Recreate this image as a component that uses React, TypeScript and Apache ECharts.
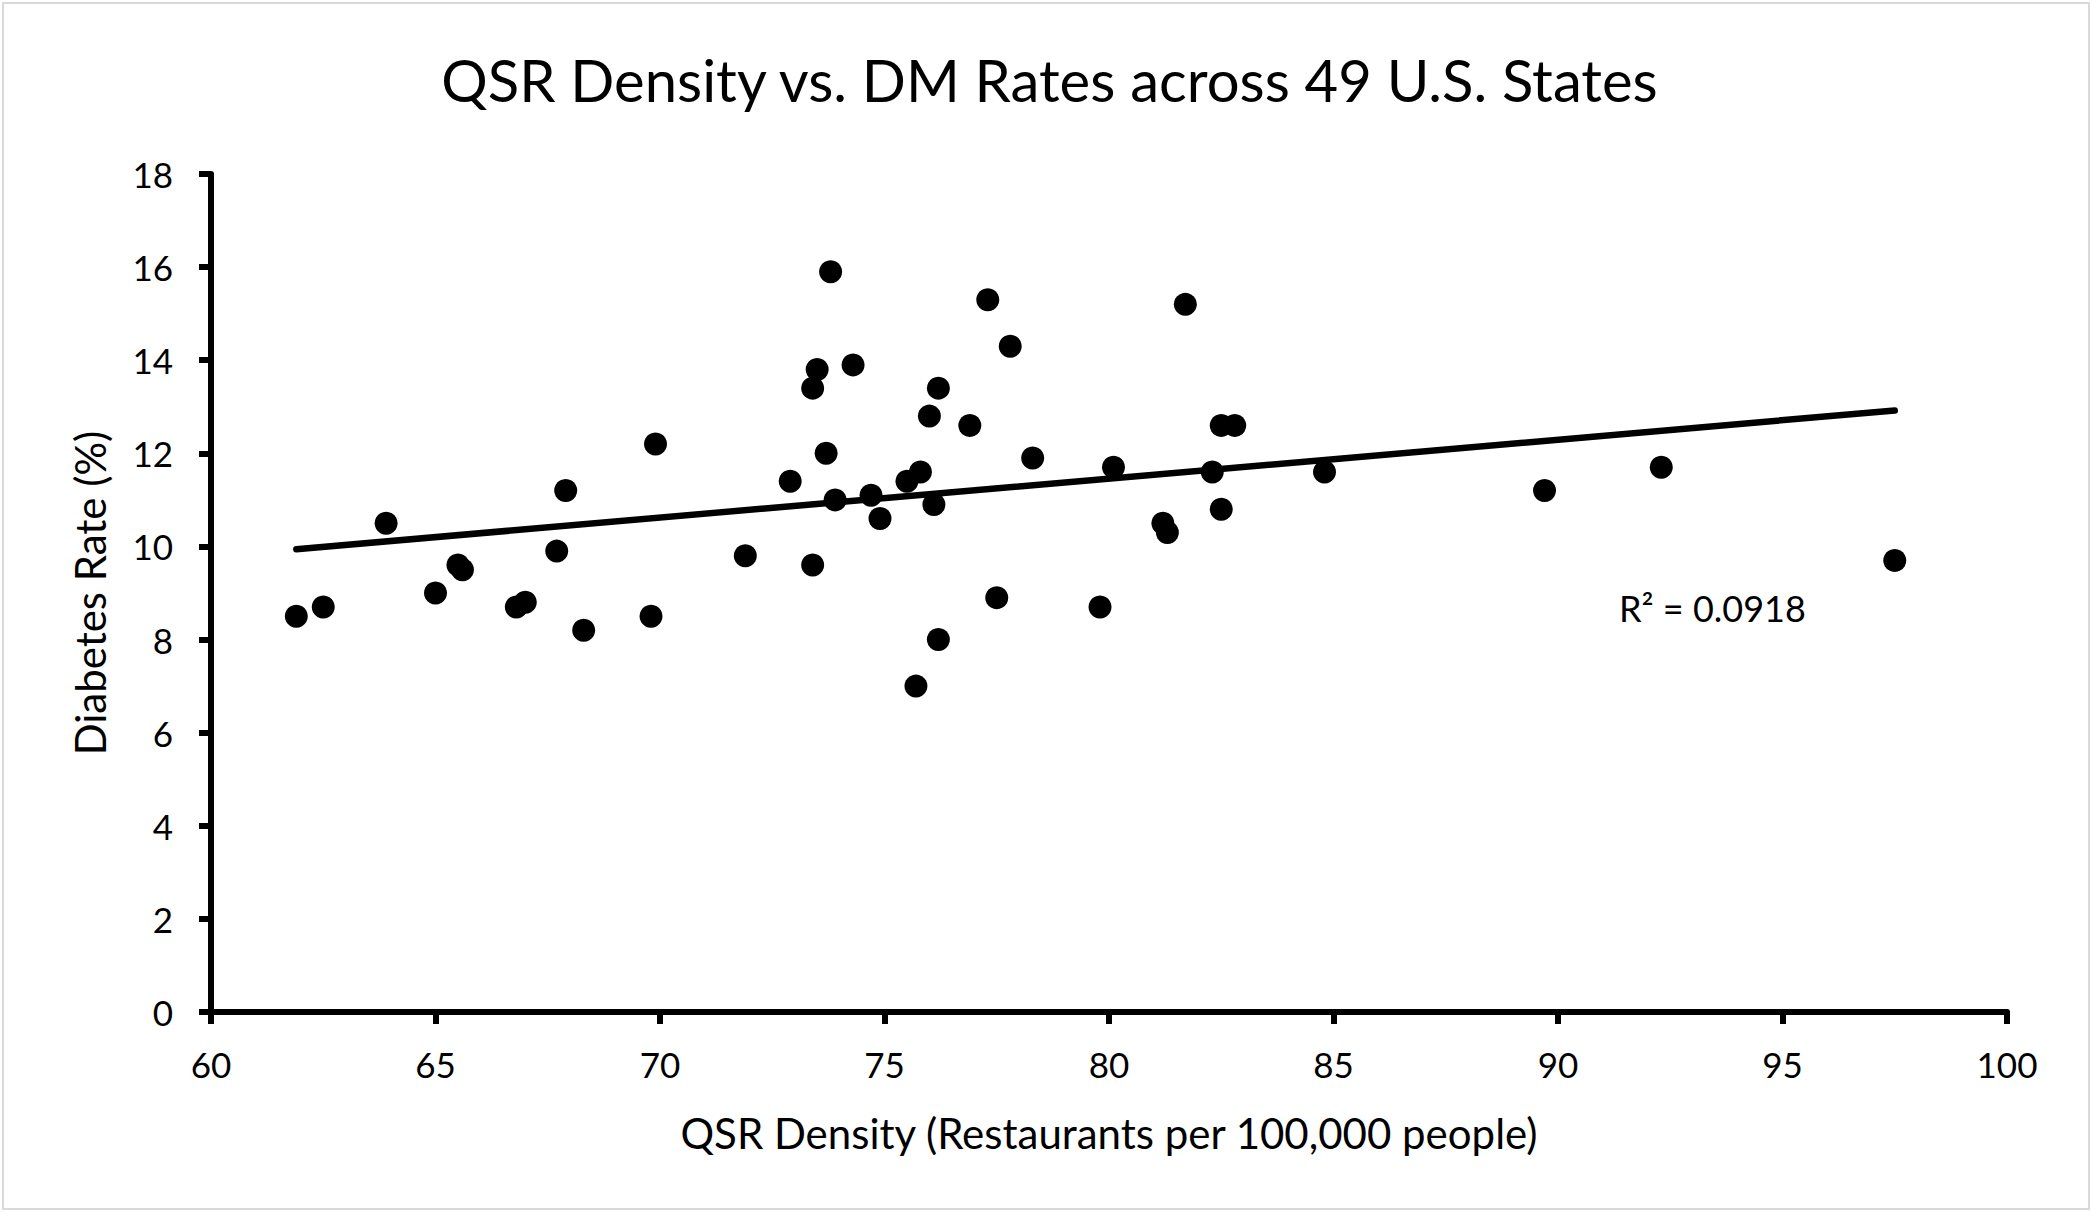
import React, { useEffect, useRef } from "react";
import * as echarts from "echarts";

const titleText = "QSR Density vs. DM Rates across 49 U.S. States";
const xAxisTitle = "QSR Density (Restaurants per 100,000 people)";
const yAxisTitle = "Diabetes Rate (%)";
const r2Label = "R\u00B2 = 0.0918";

const qsrDensity = [
  61.9, 62.5, 63.9, 65.0, 65.5, 65.6, 66.8, 67.0, 67.7, 67.9,
  68.3, 69.8, 69.9, 71.9, 72.9, 73.4, 73.4, 73.5, 73.7, 73.8,
  73.9, 74.3, 74.7, 74.9, 75.5, 75.7, 75.8, 76.0, 76.1, 76.2,
  76.2, 76.9, 77.3, 77.5, 77.8, 78.3, 79.8, 80.1, 81.2, 81.3,
  81.7, 82.3, 82.5, 82.8, 82.5, 84.8, 89.7, 92.3, 97.5,
];
const diabetesRate = [
  8.5, 8.7, 10.5, 9.0, 9.6, 9.5, 8.7, 8.8, 9.9, 11.2,
  8.2, 8.5, 12.2, 9.8, 11.4, 9.6, 13.4, 13.8, 12.0, 15.9,
  11.0, 13.9, 11.1, 10.6, 11.4, 7.0, 11.6, 12.8, 10.9, 13.4,
  8.0, 12.6, 15.3, 8.9, 14.3, 11.9, 8.7, 11.7, 10.5, 10.3,
  15.2, 11.6, 12.6, 12.6, 10.8, 11.6, 11.2, 11.7, 9.7,
];

const xTicks = { min: 60, max: 100, interval: 5 };
const yTicks = { min: 0, max: 18, interval: 2 };

function linearFit(xs: number[], ys: number[]) {
  const n = xs.length;
  const mx = xs.reduce((a, b) => a + b, 0) / n;
  const my = ys.reduce((a, b) => a + b, 0) / n;
  let sxy = 0;
  let sxx = 0;
  for (let i = 0; i < n; i++) {
    sxy += (xs[i] - mx) * (ys[i] - my);
    sxx += (xs[i] - mx) * (xs[i] - mx);
  }
  const slope = sxy / sxx;
  const intercept = my - slope * mx;
  return { slope, intercept };
}

const FONT = "Lato";

export default function App() {
  const ref = useRef<HTMLDivElement>(null);
  useEffect(() => {
    if (!ref.current) return;
    const chart = echarts.init(ref.current, undefined, { renderer: "svg" });
    const points = qsrDensity.map((x, i) => [x, diabetesRate[i]]);
    const fit = linearFit(qsrDensity, diabetesRate);
    const xMin = Math.min(...qsrDensity);
    const xMax = Math.max(...qsrDensity);
    const trend = [
      [xMin, fit.intercept + fit.slope * xMin],
      [xMax, fit.intercept + fit.slope * xMax],
    ];
    chart.setOption({
      animation: false,
      backgroundColor: "#ffffff",
      textStyle: { fontFamily: FONT, color: "#000" },
      title: {
        text: titleText,
        left: "center",
        top: 45,
        textStyle: { fontFamily: FONT, fontSize: 58, fontWeight: "normal", color: "#000" },
      },
      grid: { left: 211, right: 92, top: 174, bottom: 211, containLabel: false },
      xAxis: {
        type: "value",
        min: xTicks.min,
        max: xTicks.max,
        interval: xTicks.interval,
        name: xAxisTitle,
        nameLocation: "middle",
        nameGap: 100,
        nameTextStyle: { fontFamily: FONT, fontSize: 42, color: "#000" },
        axisLine: { show: true, onZero: false, lineStyle: { color: "#000", width: 6 } },
        axisTick: { show: true, length: 12, lineStyle: { color: "#000", width: 6 } },
        axisLabel: { fontFamily: FONT, fontSize: 35, color: "#000", margin: 34 },
        splitLine: { show: false },
      },
      yAxis: {
        type: "value",
        min: yTicks.min,
        max: yTicks.max,
        interval: yTicks.interval,
        name: yAxisTitle,
        nameLocation: "middle",
        nameGap: 100,
        nameTextStyle: { fontFamily: FONT, fontSize: 42, color: "#000" },
        axisLine: { show: true, lineStyle: { color: "#000", width: 6 } },
        axisTick: { show: true, length: 12, lineStyle: { color: "#000", width: 6 } },
        axisLabel: { fontFamily: FONT, fontSize: 35, color: "#000", margin: 38 },
        splitLine: { show: false },
      },
      graphic: [
        {
          type: "rect",
          shape: { x: 3, y: 3, width: 2086, height: 1206 },
          style: { fill: "none", stroke: "#d9d9d9", lineWidth: 2 },
          silent: true,
        },
        {
          type: "text",
          x: 1619,
          y: 608,
          style: {
            text: r2Label,
            fontFamily: FONT,
            fontSize: 36,
            fill: "#000",
            textVerticalAlign: "middle",
            verticalAlign: "middle",
          },
        },
      ],
      series: [
        {
          type: "line",
          data: trend,
          symbol: "none",
          lineStyle: { color: "#000", width: 6.5, cap: "round" },
          z: 2,
          silent: true,
        },
        {
          type: "scatter",
          data: points,
          symbol: "circle",
          symbolSize: 23,
          itemStyle: { color: "#000", opacity: 1 },
          z: 3,
        },
      ],
    });
    return () => chart.dispose();
  }, []);
  return (
    <div
      ref={ref}
      style={{ position: "absolute", left: 0, top: 0, width: 2099, height: 1223, background: "#fff" }}
    />
  );
}
